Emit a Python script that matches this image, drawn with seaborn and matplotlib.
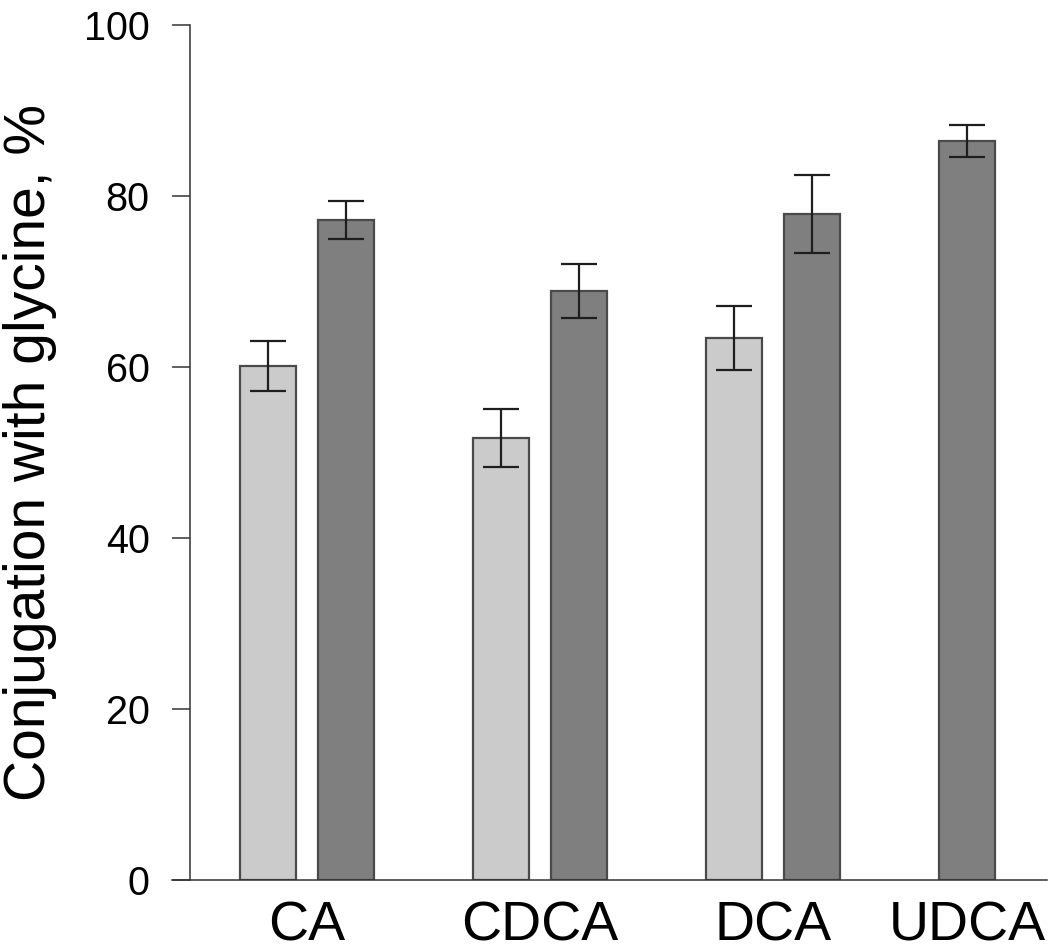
import matplotlib
matplotlib.use("Agg")
import matplotlib.pyplot as plt
import numpy as np
import pandas as pd
import seaborn as sns

# bile acids on the x axis
acids = ["CA", "CDCA", "DCA", "UDCA"]
series = ["Series 1", "Series 2"]

# conjugation with glycine, % : mean and error bar half-length
light_mean = [60.1, 51.7, 63.4, np.nan]
light_err = [2.9, 3.4, 3.7, np.nan]
dark_mean = [77.2, 68.9, 77.9, 86.4]
dark_err = [2.2, 3.2, 4.6, 1.9]

colors = {"Series 1": "#cbcbcb", "Series 2": "#7f7f7f"}

df = pd.concat([
    pd.DataFrame({"acid": acids, "series": series[0], "value": light_mean, "err": light_err}),
    pd.DataFrame({"acid": acids, "series": series[1], "value": dark_mean, "err": dark_err}),
]).dropna()

n_bars = df.groupby("acid")["value"].transform("size")
paired = df[n_bars == 2]
single = df[n_bars == 1]

sns.set_style("ticks")
plt.rcParams["font.family"] = ["Liberation Sans", "DejaVu Sans"]

fig = plt.figure(figsize=(10.5, 9.46), dpi=100)
ax = fig.add_axes([0.1638, 0.0698, 0.8333, 0.9038])

bar_kw = dict(x="acid", y="value", order=acids, palette=colors, width=0.67, gap=0.28,
              dodge=True, errorbar=None, legend=False, edgecolor="#4a4a4a",
              linewidth=1.6, ax=ax)
sns.barplot(data=paired, hue="series", hue_order=series, **bar_kw)
# a lone bar takes the first slot of its group
sns.barplot(data=single, hue="series", hue_order=series[::-1], **bar_kw)

# error bars on top of the drawn bars
centers = {}
for bar in ax.patches:
    cx = bar.get_x() + bar.get_width() / 2
    acid = acids[int(round(cx))]
    row = df[(df["acid"] == acid) & np.isclose(df["value"], bar.get_height())].iloc[0]
    ax.errorbar(cx, row["value"], yerr=row["err"], fmt="none", ecolor="#1e1e1e",
                elinewidth=1.6, capsize=13, capthick=1.6, zorder=3)
    centers.setdefault(acid, []).append(cx)

ax.set_xticks([np.mean(centers[a]) for a in acids], acids)
ax.set_xlim(-0.579, 3.176)
ax.set_ylim(0, 100)
ax.set_yticks(range(0, 101, 20))
ax.tick_params(axis="x", length=0, pad=15, labelsize=40, labelcolor="black")
ax.tick_params(axis="y", length=13, width=1.1, pad=16, labelsize=28.5, direction="out",
               color="#333333", labelcolor="black")

sns.despine(ax=ax)
ax.spines["left"].set_position(("axes", 0.0206))
for side in ["left", "bottom"]:
    ax.spines[side].set_linewidth(1.1)
    ax.spines[side].set_color("#333333")

ax.set_xlabel("")
ax.set_ylabel("Conjugation with glycine, %", fontsize=41, color="black")
ax.yaxis.set_label_coords(-0.1315, 0.5)

fig.savefig("out.png", dpi=100)
